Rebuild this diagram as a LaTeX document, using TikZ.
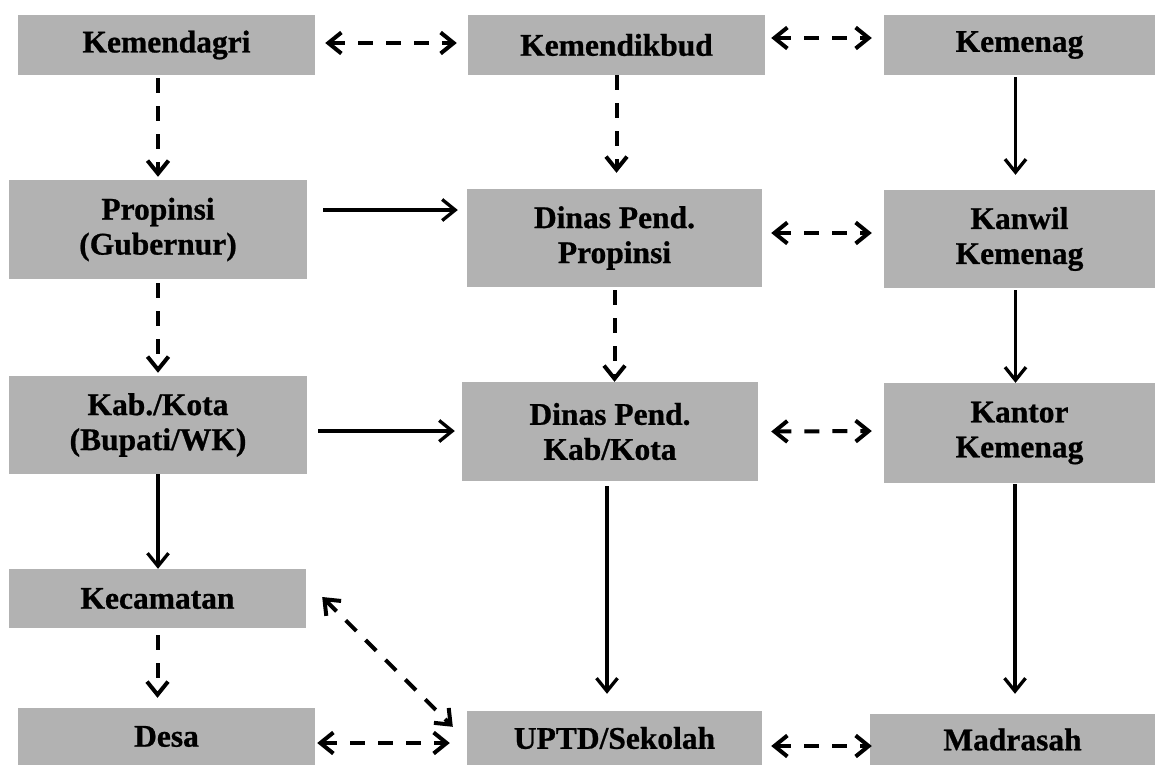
\documentclass[tikz,border=0pt]{standalone}
\usepackage{fontspec}
\setmainfont{Liberation Serif}[BoldFeatures={FakeBold=0.8}]
\usepackage{tikz}
\usetikzlibrary{arrows.meta}
\definecolor{boxgray}{RGB}{178,178,178}

\begin{document}
\begin{tikzpicture}[x=1pt,y=-1pt,
    box/.style={shape=rectangle,fill=boxgray,inner sep=0pt,align=center,
      font=\bfseries\fontsize{31.5}{35}\selectfont},
    tip/.tip={Straight Barb[length=13pt,width=21pt]},
    link/.style={line width=3.3pt,-tip},
    dlink/.style={link,line width=4pt,dash pattern=on 15pt off 13pt},
    both/.style={dlink,tip-tip}]
    \useasboundingbox (0,0) rectangle (1155,765);
    % top row
	\node (kemendagri) at (166.5,45) [box,minimum width=297pt,minimum height=60pt] {Kemendagri};
	\node (kemendikbud) at (616.5,45) [box,minimum width=297pt,minimum height=60pt] {Kemendikbud};
	\node (kemenag) at (1019.5,45) [box,minimum width=271pt,minimum height=60pt] {Kemenag};
    % second row
	\node (propinsi) at (158,229.5) [box,minimum width=298pt,minimum height=99pt] {Propinsi\\(Gubernur)};
	\node (dinasprop) at (614.5,238) [box,minimum width=295pt,minimum height=98pt] {Dinas Pend.\\Propinsi};
	\node (kanwil) at (1019.5,239) [box,minimum width=271pt,minimum height=98pt] {Kanwil\\Kemenag};
    % third row
	\node (kabkota) at (158,425) [box,minimum width=298pt,minimum height=98pt] {Kab./Kota\\(Bupati/WK)};
	\node (dinaskab) at (610,431.5) [box,minimum width=296pt,minimum height=99pt] {Dinas Pend.\\Kab/Kota};
	\node (kantor) at (1019.5,433) [box,minimum width=271pt,minimum height=100pt] {Kantor\\Kemenag};
    % bottom rows
	\node (kecamatan) at (157.5,598.5) [box,minimum width=297pt,minimum height=59pt] {Kecamatan};
	\node (desa) at (166.5,736.5) [box,minimum width=297pt,minimum height=57pt] {Desa};
	\node (uptd) at (614.5,738) [box,minimum width=295pt,minimum height=54pt] {UPTD/Sekolah};
	\node (madrasah) at (1012.5,739.5) [box,minimum width=285pt,minimum height=51pt] {Madrasah};
    % horizontal links
	\draw[both] ([xshift=10pt,yshift=2pt]kemendagri.east) -- ([xshift=-11pt,yshift=2pt]kemendikbud.west);
	\draw[both] ([xshift=6pt,yshift=7pt]kemendikbud.east) -- ([xshift=-12pt,yshift=7pt]kemenag.west);
	\draw[link] ([xshift=16pt,yshift=19.5pt]propinsi.east) -- ([xshift=-9pt,yshift=28pt]dinasprop.west);
	\draw[both] ([xshift=9pt,yshift=5pt]dinasprop.east) -- ([xshift=-12pt,yshift=6pt]kanwil.west);
	\draw[link] ([xshift=11pt,yshift=-6pt]kabkota.east) -- ([xshift=-7pt,yshift=0.5pt]dinaskab.west);
	\draw[both] ([xshift=13pt]dinaskab.east) -- ([xshift=-12pt,yshift=2pt]kantor.west);
	\draw[both] ([xshift=2pt,yshift=-6.5pt]desa.east) -- ([xshift=-17pt,yshift=-5pt]uptd.west);
	\draw[both] ([xshift=9pt,yshift=-8pt]uptd.east) -- ([xshift=2pt,yshift=-6.5pt]madrasah.west);
	\draw[both] ([xshift=16pt,yshift=1.5pt]kecamatan.east) -- ([xshift=-14pt,yshift=-16pt]uptd.north west);
    % vertical links
	\draw[dlink,shorten <=3pt,shorten >=3pt] (kemendagri.south -| propinsi.north) -- (propinsi.north);
	\draw[dlink,shorten >=16pt] (kemendikbud.south) -- (dinasprop.north -| kemendikbud.south);
	\draw[link,shorten <=2pt,shorten >=15pt] ([xshift=-4pt]kemenag.south) -- ([xshift=-4pt]kanwil.north);
	\draw[dlink,shorten <=4pt,shorten >=3pt] (propinsi.south) -- (kabkota.north);
	\draw[dlink,shorten <=3pt] (dinasprop.south) -- (dinaskab.north -| dinasprop.south);
	\draw[link,shorten <=2pt] ([xshift=-4pt]kanwil.south) -- ([xshift=-4pt]kantor.north);
	\draw[link] (kabkota.south) -- (kecamatan.north -| kabkota.south);
	\draw[link,shorten <=5pt,shorten >=17pt] ([xshift=-3pt]dinaskab.south) -- ([xshift=-7.5pt]uptd.north);
	\draw[link,shorten <=1pt,shorten >=20pt] ([xshift=-4.5pt]kantor.south) -- ([xshift=2.5pt]madrasah.north);
	\draw[dlink,shorten <=7pt,shorten >=10pt] (kecamatan.south) -- (desa.north -| kecamatan.south);
\end{tikzpicture}
\end{document}
